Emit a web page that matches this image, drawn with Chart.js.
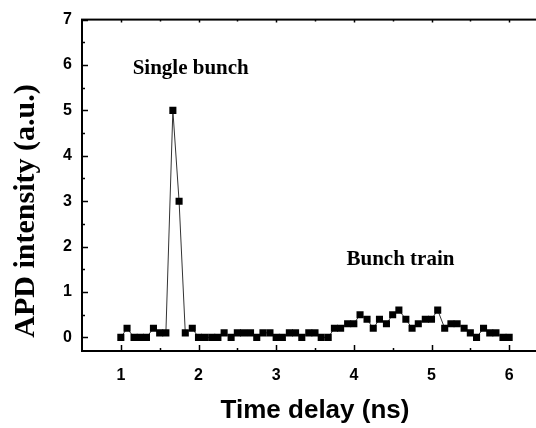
<!DOCTYPE html>
<html>
<head>
<meta charset="utf-8">
<script src="https://cdn.jsdelivr.net/npm/chart.js@4.4.0/dist/chart.umd.min.js"></script>
<style>
html, body { margin: 0; padding: 0; background: #fff; overflow: hidden; }
#wrap { width: 560px; height: 428px; }
</style>
</head>
<body>
<div id="wrap"><canvas id="myChart" width="560" height="428"></canvas></div>
<script>
// time delay (ns), one sample every ~0.083 ns
const times = [
    1.00, 1.08, 1.17, 1.25, 1.33, 1.42, 1.50, 1.58, 1.67, 1.75, 1.83, 1.92,
    2.00, 2.08, 2.17, 2.25, 2.33, 2.42, 2.50, 2.58, 2.67, 2.75, 2.83, 2.92,
    3.00, 3.08, 3.17, 3.25, 3.33, 3.42, 3.50, 3.58, 3.67, 3.75, 3.83, 3.92,
    4.00, 4.08, 4.17, 4.25, 4.33, 4.42, 4.50, 4.58, 4.67, 4.75, 4.83, 4.92,
    5.00, 5.08, 5.17, 5.25, 5.33, 5.42, 5.50, 5.58, 5.67, 5.75, 5.83, 5.92,
    6.00
];
// APD intensity (a.u.)
const intensity = [
    0, 0.2, 0, 0, 0, 0.2, 0.1, 0.1, 5, 3, 0.1, 0.2,
    0, 0, 0, 0, 0.1, 0, 0.1, 0.1, 0.1, 0, 0.1, 0.1,
    0, 0, 0.1, 0.1, 0, 0.1, 0.1, 0, 0, 0.2, 0.2, 0.3,
    0.3, 0.5, 0.4, 0.2, 0.4, 0.3, 0.5, 0.6, 0.4, 0.2, 0.3, 0.4,
    0.4, 0.6, 0.2, 0.3, 0.3, 0.2, 0.1, 0, 0.2, 0.1, 0.1, 0,
    0
];
const xTicks = [1, 2, 3, 4, 5, 6];
const yTicks = [0, 1, 2, 3, 4, 5, 6, 7];
const notes = [
    { text: "Single bunch", x: 1.9, y: 5.92 },
    { text: "Bunch train", x: 4.6, y: 1.71 }
];

const serif = '"Liberation Serif", "Times New Roman", serif';
const sans = '"Liberation Sans", Arial, sans-serif';

// box, inward ticks, axis titles and the two notes
const frame = {
    id: "frame",
    afterDraw(chart) {
        const { ctx, chartArea: a, scales: { x, y } } = chart;
        ctx.save();
        ctx.strokeStyle = "#000";
        ctx.lineWidth = 2;
        ctx.strokeRect(a.left, a.top, a.right - a.left, a.bottom - a.top);

        ctx.lineWidth = 1.5;
        ctx.beginPath();
        xTicks.forEach(v => {
            const px = Math.round(x.getPixelForValue(v)) + 0.5;
            ctx.moveTo(px, a.bottom); ctx.lineTo(px, a.bottom - 6);
            ctx.moveTo(px, a.top); ctx.lineTo(px, a.top + 3);
            const pm = Math.round(x.getPixelForValue(v + 0.5)) + 0.5;
            ctx.moveTo(pm, a.bottom); ctx.lineTo(pm, a.bottom - 3);
            ctx.moveTo(pm, a.top); ctx.lineTo(pm, a.top + 2);
        });
        yTicks.forEach(v => {
            const py = Math.round(y.getPixelForValue(v)) + 0.5;
            ctx.moveTo(a.left, py); ctx.lineTo(a.left + 6, py);
            if (v < 7) {
                const pm = Math.round(y.getPixelForValue(v + 0.5)) + 0.5;
                ctx.moveTo(a.left, pm); ctx.lineTo(a.left + 3, pm);
            }
        });
        ctx.stroke();

        ctx.fillStyle = "#000";
        ctx.textAlign = "center";
        ctx.textBaseline = "middle";
        ctx.font = "bold 21px " + serif;
        notes.forEach(n => {
            ctx.fillText(n.text, x.getPixelForValue(n.x), y.getPixelForValue(n.y));
        });

        ctx.font = "bold 26px " + sans;
        ctx.fillText("Time delay (ns)", (a.left + a.right) / 2, 411);

        ctx.translate(26, 211);
        ctx.rotate(-Math.PI / 2);
        ctx.font = "bold 30px " + serif;
        ctx.fillText("APD intensity (a.u.)", 0, 0);
        ctx.restore();
    }
};

const data = {
    datasets: [{
        label: "APD",
        data: times.map((t, i) => ({ x: t, y: intensity[i] })),
        borderColor: "#333",
        borderWidth: 1,
        pointStyle: "rect",
        pointRadius: 5,
        pointBackgroundColor: "#000",
        pointBorderWidth: 0,
        tension: 0
    }]
};

const config = {
    type: "line",
    data,
    options: {
        responsive: false,
        animation: false,
        layout: { padding: { top: 19, right: 12, left: 0, bottom: 0 } },
        plugins: {
            legend: { display: false },
            tooltip: { enabled: false }
        },
        scales: {
            x: {
                type: "linear",
                min: 0.5,
                max: 6.5,
                grid: { display: false, drawTicks: false },
                border: { display: false },
                ticks: {
                    color: "#000",
                    padding: 15,
                    font: { family: sans, size: 16, weight: "bold" }
                },
                afterBuildTicks: s => { s.ticks = xTicks.map(v => ({ value: v })); },
                afterFit: s => { s.height = 77; }
            },
            y: {
                min: -0.3,
                max: 7,
                grid: { display: false, drawTicks: false },
                border: { display: false },
                ticks: {
                    color: "#000",
                    padding: 10,
                    font: { family: sans, size: 16, weight: "bold" }
                },
                afterBuildTicks: s => { s.ticks = yTicks.map(v => ({ value: v })); },
                afterFit: s => { s.width = 82; }
            }
        }
    },
    plugins: [frame]
};

const ctx = document.getElementById("myChart");
let myChart = new Chart(ctx, config);
</script>
</body>
</html>
